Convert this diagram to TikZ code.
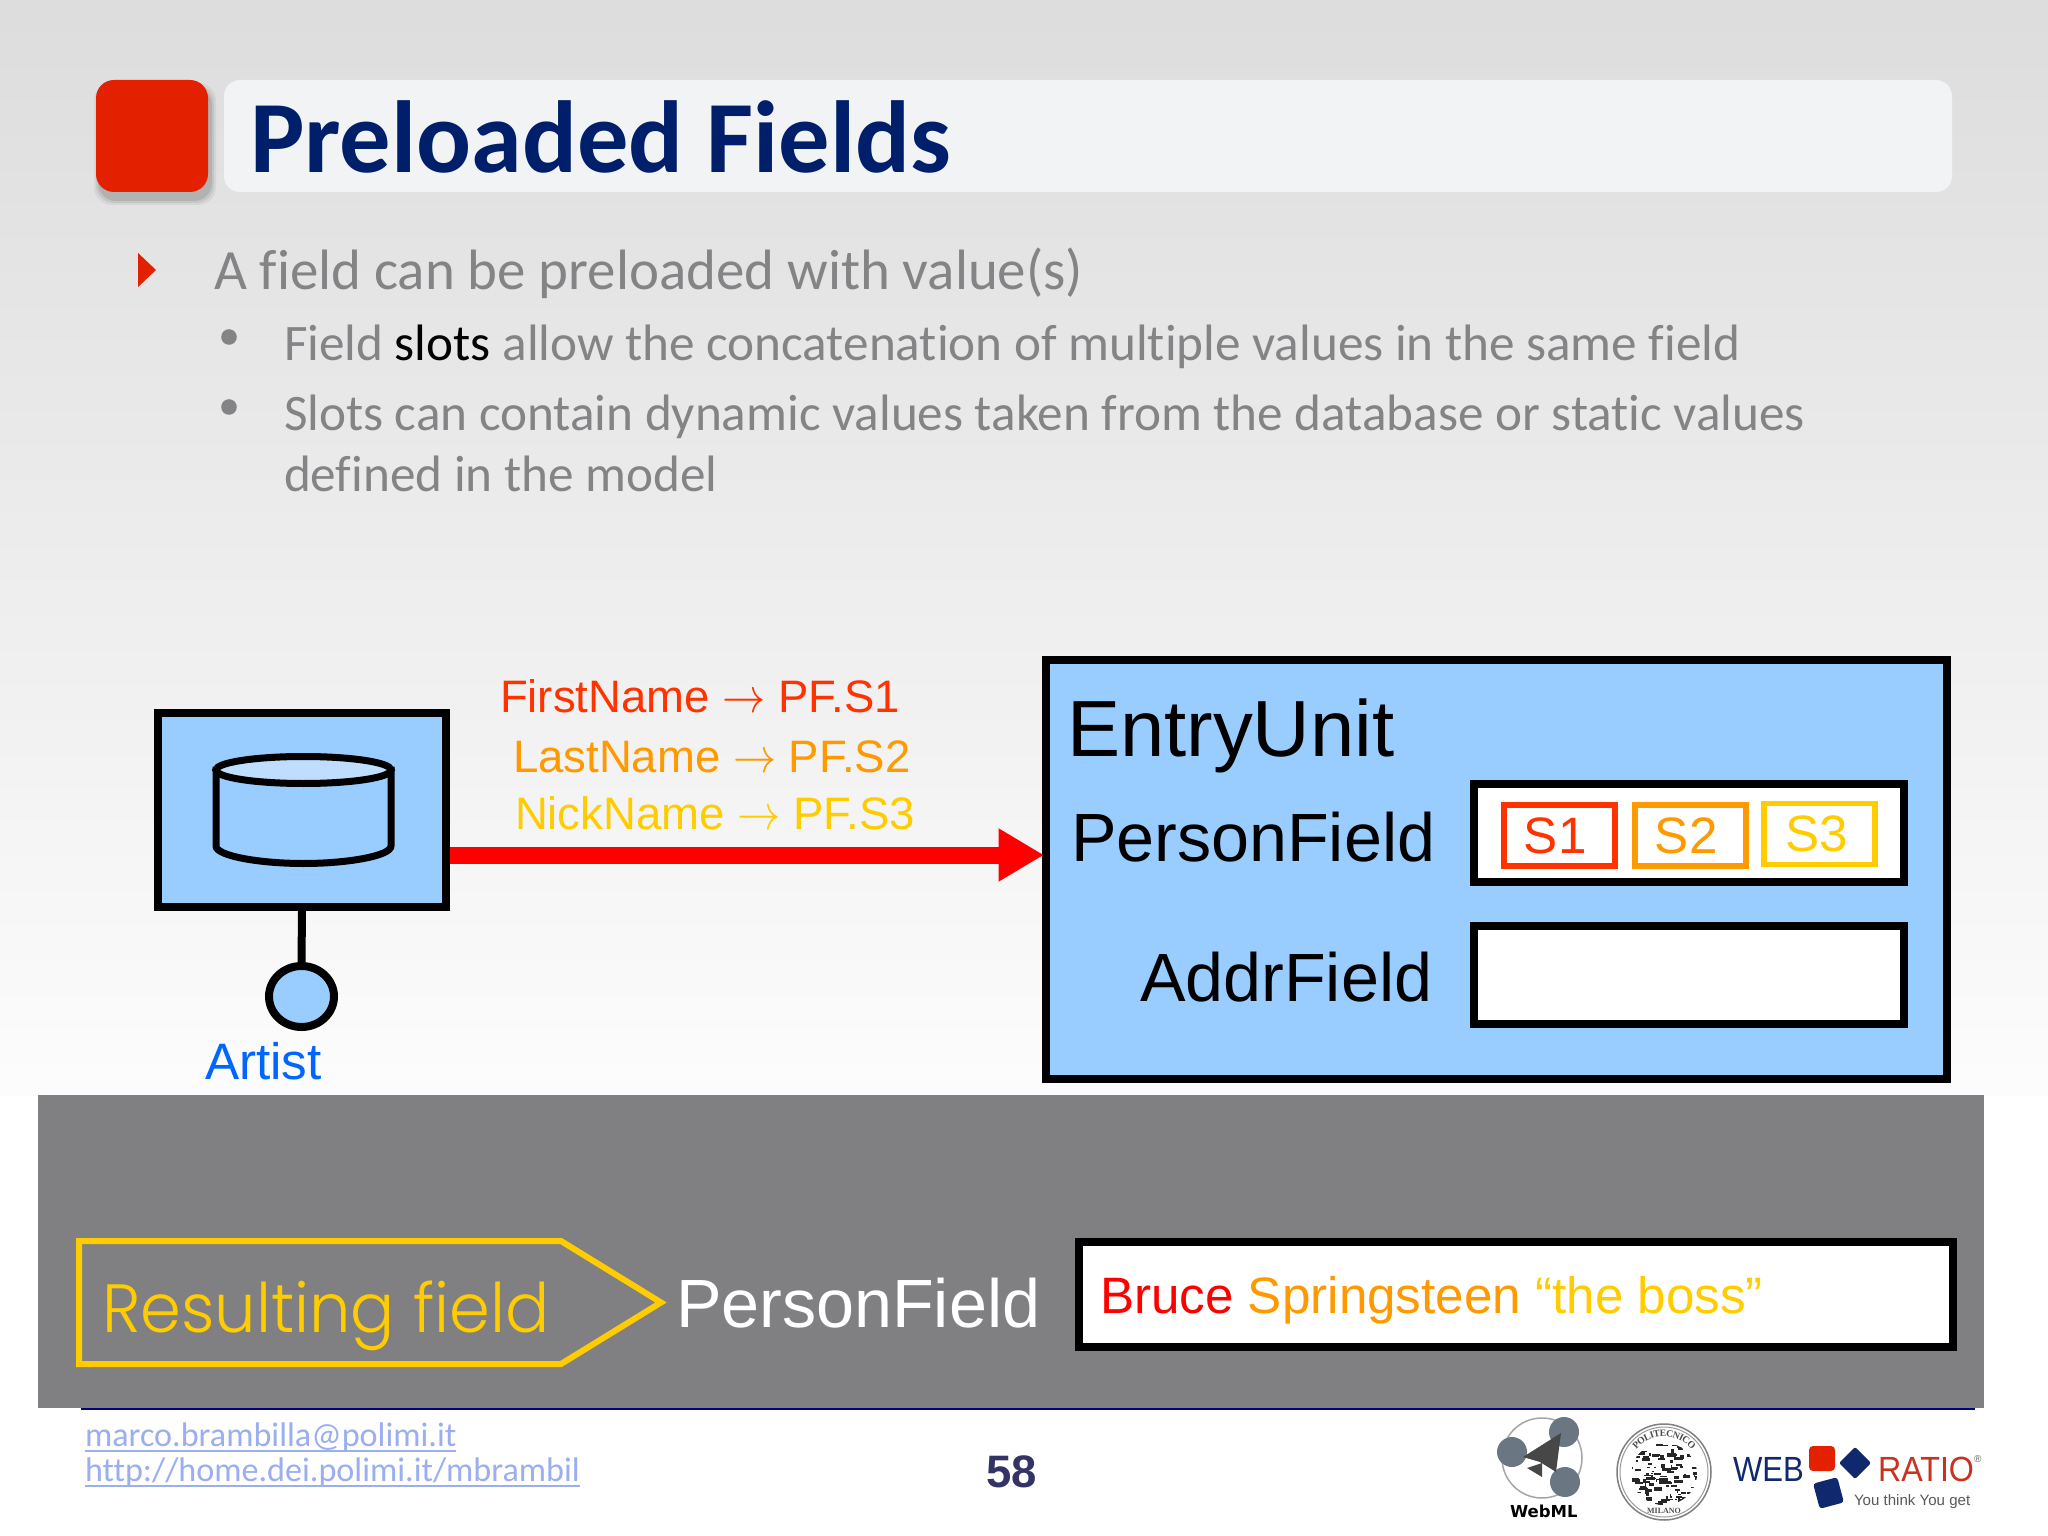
\documentclass[tikz,border=0pt]{standalone}
\usepackage{fontspec}
\setmainfont{Liberation Sans}
\newfontfamily\carlito{Carlito}[Ligatures=NoCommon]
\newfontfamily\gothicf{Poppins Light}
\newfontfamily\dejavu{DejaVu Sans}
\newfontfamily\serifseal{Liberation Serif}
\usetikzlibrary{arrows.meta,decorations.text,shapes.geometric}
\newcommand\pxu{0.3515625pt}
\newcommand\setsz[1]{\fontsize{#1pt}{#1pt}\selectfont}
\newcommand\flowarrow{\scalebox{0.88}[1]{$\rightarrow$}}
\definecolor{barfill}{HTML}{F2F3F5}
\definecolor{slidered}{HTML}{E32000}
\definecolor{titleblue}{HTML}{001F6B}
\definecolor{bodygray}{HTML}{848486}
\definecolor{unitblue}{HTML}{99CCFF}
\definecolor{unitlight}{HTML}{BFDDFF}
\definecolor{sone}{HTML}{FF3300}
\definecolor{stwo}{HTML}{FF9900}
\definecolor{sthree}{HTML}{FFCC00}
\definecolor{bandgray}{HTML}{808082}
\definecolor{linkblue}{HTML}{9AAEF0}
\definecolor{pagenum}{HTML}{333366}
\definecolor{artistblue}{HTML}{0066FF}
\definecolor{logogray}{HTML}{6A7682}
\definecolor{logonavy}{HTML}{10296E}
\definecolor{logored}{HTML}{C8321E}
\tikzset{
  txt/.style={inner sep=0pt,outer sep=0pt,anchor=base west},
  unitbox/.style={draw=black,line width=8*\pxu,fill=unitblue,rectangle,inner sep=0pt},
  fieldbox/.style={draw=black,line width=8*\pxu,fill=white,rectangle,inner sep=0pt},
  slotbox/.style={line width=5.5*\pxu,fill=white,rectangle,inner sep=0pt,font=\setsz{18},minimum width=111*\pxu,minimum height=61*\pxu},
  linkline/.style={draw=linkblue,line width=1.5*\pxu},
}
\begin{document}
\begin{tikzpicture}[x=\pxu,y=-\pxu]
\useasboundingbox (0,0) rectangle (2048,1536);
% background
\fill[white] (0,0) rectangle (2048,1536);
\shade[top color=black!13.5,bottom color=black!1] (0,0) rectangle (2048,1095);
% title
\foreach \o/\k in {5/5,3/7,1/10}{
  \fill[black,opacity=0.01*\k,rounded corners=18*\pxu] (96+3-\o,80+8-\o) rectangle (208+3+\o,192+8+\o);
}
\fill[slidered,rounded corners=18*\pxu] (96,80) rectangle (208,192);
\fill[barfill,rounded corners=16*\pxu] (224,80) rectangle (1952,192);
\node[txt,text=titleblue] (title) at (250,173) {\carlito\bfseries\setsz{36}Preloaded Fields};
% bullets
\fill[slidered] (138,253) -- (156,270) -- (138,287) -- cycle;
\node[txt,text=bodygray] (b1) at (214,290) {\carlito\setsz{20}A field can be preloaded with value(s)};
\fill[bodygray] (229,337) circle (7.8);
\node[txt,text=bodygray] (b2) at (284,361) {\carlito\setsz{18}Field \textcolor{black}{slots} allow the concatenation of multiple values in the same field};
\fill[bodygray] (229,407) circle (7.8);
\node[txt,text=bodygray] (b3) at (284,431) {\carlito\setsz{18}Slots can contain dynamic values taken from the database or static values};
\node[txt,text=bodygray] (b4) at (284,492) {\carlito\setsz{18}defined in the model};
% data unit
\node[unitbox,minimum width=288*\pxu,minimum height=194*\pxu] (db) at (302,810) {};
\begin{scope}[line width=7*\pxu,draw=black,fill=unitblue]
  \filldraw (216,770) -- (216,846) .. controls (216,856) and (260,863.5) .. (303.5,863.5) .. controls (347,863.5) and (391,856) .. (391,846) -- (391,770) -- cycle;
  \filldraw[fill=unitlight] (303.5,770) ellipse (87.5 and 13.5);
\end{scope}
\node[ellipse,draw=black,fill=unitblue,line width=8*\pxu,inner sep=0pt,minimum width=65*\pxu,minimum height=61*\pxu] (conn) at (301.5,996.5) {};
\draw[line width=8*\pxu] (db.south) -- (conn.north);
\node[txt,text=artistblue] (artist) at (205,1079) {\setsz{18}Artist};
% labels on the flow
\node[txt,text=sone] (l1) at (500,712) {\setsz{16}FirstName \flowarrow{} PF.S1};
\node[txt,text=stwo] (l2) at (513,772) {\setsz{16}LastName \flowarrow{} PF.S2};
\node[txt,text=sthree] (l3) at (515,829) {\setsz{16}NickName \flowarrow{} PF.S3};
% entry unit
\node[unitbox,minimum width=901*\pxu,minimum height=419*\pxu] (entry) at (1496.5,869.5) {};
\coordinate (flowy) at (0,855);
\draw[red,line width=17*\pxu,shorten >=-2*\pxu,-{Triangle[length=16pt,width=17.6pt]}] (db.east |- flowy) -- (entry.west |- flowy);
\node[txt] (eu) at (1067,756) {\setsz{28}EntryUnit};
\node[txt] (pf) at (1071,861) {\setsz{24}PersonField};
\node[txt] (af) at (1140,1001) {\setsz{24}AddrField};
\node[fieldbox,minimum width=430*\pxu,minimum height=98*\pxu] (f1) at (1689,833) {};
\node[fieldbox,minimum width=430*\pxu,minimum height=98*\pxu] (f2) at (1689,975) {};
\node[slotbox,draw=sone,text=sone] (s1) at (1559.5,835.5) {S1\kern3pt};
\node[slotbox,draw=stwo,text=stwo] (s2) at (1690.5,835.5) {S2\kern3pt};
\node[slotbox,draw=sthree,text=sthree] (s3) at (1819.5,834) {S3\kern2pt};
% band
\fill[bandgray] (38,1095) rectangle (1984,1408);
\draw[blue!50!black,line width=2*\pxu] (81,1409) -- (1975,1409);
\draw[sthree,line width=6*\pxu,miter limit=10] (79,1241) -- (561,1241) -- (661,1302.5) -- (561,1364) -- (79,1364) -- cycle;
\node[txt,text=sthree] (rf) at (102,1332) {\gothicf\setsz{24}\scalebox{0.96}[1]{Resulting field}};
\node[txt,text=white] (pf2) at (676,1327) {\setsz{24}PersonField};
\node[fieldbox,minimum width=874*\pxu,minimum height=105*\pxu] (res) at (1516,1294.5) {};
\node[txt] (restext) at (1100,1313) {\setsz{18}\textcolor{red}{Bruce} \textcolor{stwo}{Springsteen} \textcolor{sthree}{“the boss”}};
% footer
\node[txt,text=linkblue] (mail) at (85,1446) {\carlito\setsz{12}marco.brambilla@polimi.it};
\draw[linkline] ([yshift=-5*\pxu]mail.base west) -- ([yshift=-5*\pxu]mail.base east);
\node[txt,text=linkblue] (web) at (85,1481) {\carlito\setsz{12}http://home.dei.polimi.it/mbrambil};
\draw[linkline] ([yshift=-5*\pxu]web.base west) -- ([yshift=-5*\pxu]web.base east);
\node[txt,text=pagenum] (pg) at (986,1487) {\bfseries\setsz{16}58};
% WebML logo
\draw[gray!70,line width=1.5*\pxu] (1542,1458) circle (40);
\fill[logogray] (1512,1452) circle (15);
\fill[logogray] (1564,1432) circle (15);
\fill[logogray] (1565,1482) circle (15);
\fill[black!72] (1561,1433) -- (1523,1457) -- (1540,1462) -- (1556,1472) -- cycle;
\fill[black!72] (1527,1468) -- (1542,1463) -- (1542,1477) -- cycle;
\node[txt] (webml) at (1510,1517) {\dejavu\bfseries\setsz{5.8}WebML};
% seal
\draw[gray,line width=1.5*\pxu] (1664,1472) ellipse (47 and 48);
\draw[gray!80,line width=1*\pxu] (1664,1472) ellipse (44 and 45);
\begin{scope}
  \clip (1664,1474) ellipse (33 and 31);
  \pgfmathsetseed{58}
  \foreach \i in {1,...,150}{
    \pgfmathsetmacro\ax{1630+68*rnd}
    \pgfmathsetmacro\ay{1441+66*rnd}
    \pgfmathsetmacro\aw{1+8*rnd}
    \pgfmathsetmacro\ah{1+3*rnd}
    \fill[black!85] (\ax,\ay) rectangle (\ax+\aw,\ay+\ah);
  }
\end{scope}
\path[postaction={decorate,decoration={text along path,text align=center,raise=-1.2pt,text={|\serifseal\bfseries\setsz{3.4}\color{black!70}|POLITECNICO}}}] (1627,1460) arc (198:342:39);
\node[text=black!70,inner sep=0pt] (milano) at (1664,1511) {\serifseal\bfseries\setsz{2.8}MILANO};
% WebRatio logo
\node[txt,text=logonavy] (wb) at (1733,1481) {\setsz{12.3}\scalebox{0.89}[1]{WEB}};
\fill[slidered,rounded corners=4*\pxu] (1809,1446) rectangle (1835,1471);
\fill[logonavy,rounded corners=2*\pxu] (1855,1447) -- (1871,1463) -- (1855,1479) -- (1839,1463) -- cycle;
\fill[logonavy,rounded corners=3*\pxu,rotate around={15:(1828.5,1493)}] (1816,1480) rectangle (1841,1506);
\node[txt,text=logored] (rt) at (1878,1481) {\setsz{12.3}\scalebox{0.92}[1]{RATIO}};
\node[txt,text=black!60] (reg) at (1974,1462) {\setsz{3.5}®};
\node[txt,text=black!65] (you) at (1854,1505) {\setsz{5.3}You think You get};
\end{tikzpicture}
\end{document}
